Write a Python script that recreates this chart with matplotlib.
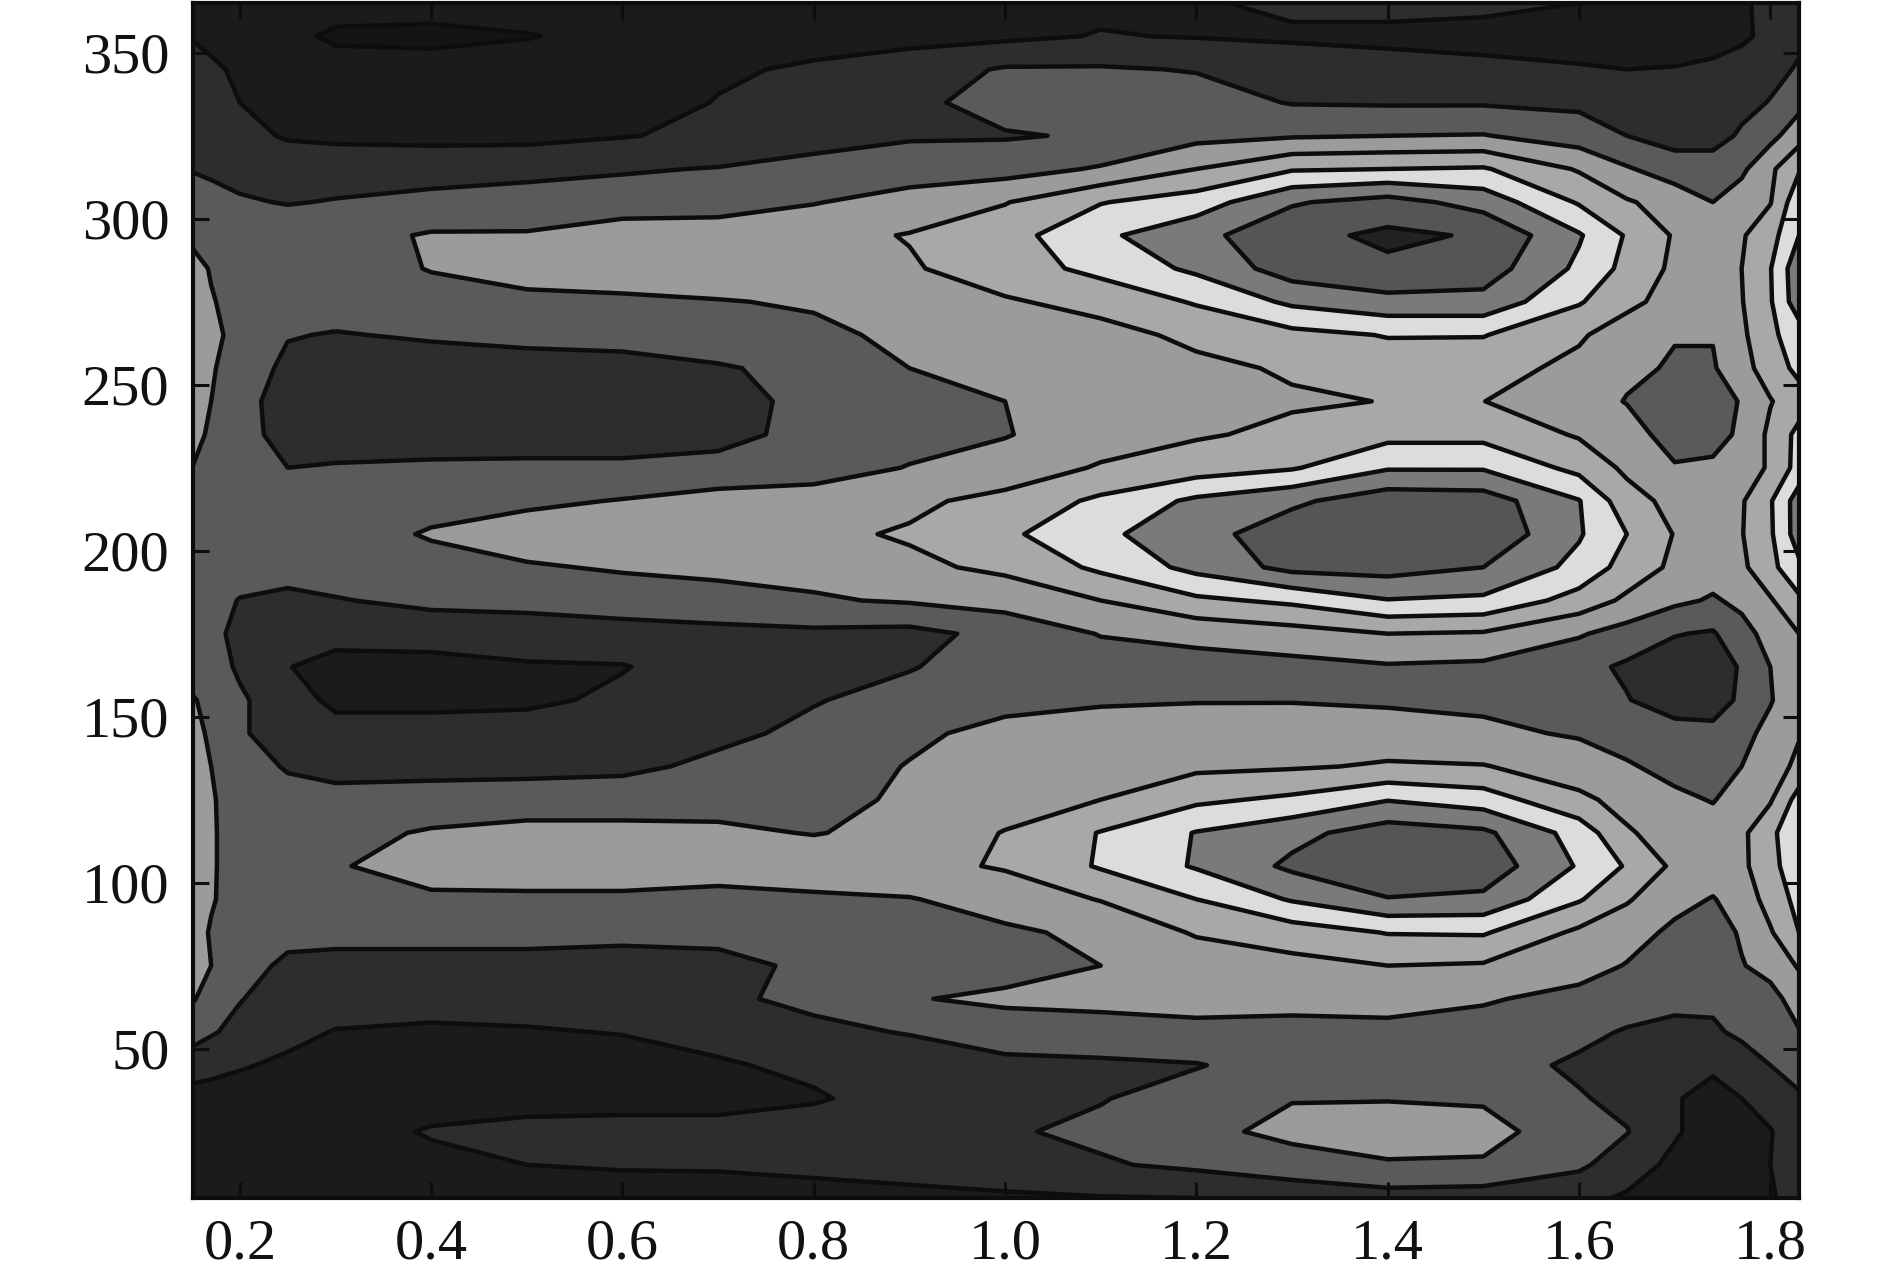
# filled contour map, greyscale

import numpy as np
import matplotlib
matplotlib.use('Agg')
import matplotlib.pyplot as plt

plt.rcParams['font.family'] = ['Liberation Serif', 'DejaVu Serif']

# 坐标和刻度
x_vals = [0.15, 0.17, 0.20, 0.25, 0.30, 0.40, 0.50, 0.60, 0.70, 0.80, 0.90, 1.00,
          1.10, 1.20, 1.30, 1.40, 1.50, 1.60, 1.65, 1.70, 1.74, 1.77, 1.80, 1.83]
y_vals = [365, 355, 345, 335, 325, 315, 305, 295, 285, 275, 265, 255, 245, 235, 225, 215, 205, 195, 185,
          175, 165, 155, 145, 135, 125, 115, 105, 95, 85, 75, 65, 55, 45, 35, 25, 15, 5]
x_ticks = [0.2, 0.4, 0.6, 0.8, 1.0, 1.2, 1.4, 1.6, 1.8]
y_ticks = [50, 100, 150, 200, 250, 300, 350]

# 每个色带的灰度
band_levels = [-0.5, 0.5, 1.5, 2.5, 3.5, 4.5, 5.5, 6.5, 7.5, 8.5, 9.5]
band_colors = ['#141414', '#1b1b1b', '#2d2d2d', '#5a5a5a', '#9b9b9b',
               '#a8a8a8', '#dcdcdc', '#7a7a7a', '#555555', '#222222']

# 网格值, 一行一个 y
z_rows = [
    [1, 1, 1, 1, 1, 1, 1, 1, 1, 1, 1.1, 1.2, 1.3, 1.4, 1.7, 1.9, 1.8, 1.5, 1.3, 1.2, 1.3, 1.4, 1.7, 2.2],
    [1.4, 1.2, 1, 0.8, 0.3, 0.2, 0.45, 0.8, 1, 1.1, 1.2, 1.3, 1.55, 1.45, 1.35, 1.2, 1.1, 1, 1, 1, 1.1, 1.3, 1.8, 2.3],
    [2.2, 1.7, 1.3, 1, 1, 1, 1, 1, 1.35, 1.65, 2, 2.6, 2.6, 2.45, 2.1, 2, 1.8, 1.6, 1.5, 1.55, 1.7, 2, 2.2, 2.6],
    [2.2, 2, 1.5, 1.1, 1, 1, 1, 1, 1.55, 2, 2.25, 2.9, 3, 2.9, 2.45, 2.4, 2.4, 2.3, 2.1, 2, 2, 2.2, 2.55, 3.2],
    [2.4, 2.1, 1.8, 1.4, 1.3, 1.2, 1.2, 1.45, 1.7, 2.2, 2.4, 2.42, 2.6, 3.2, 3.4, 3.5, 3.55, 3, 2.5, 2.1, 2.1, 2.65, 3.2, 4.1],
    [2.45, 2.3, 2.2, 2.1, 2.1, 2.2, 2.3, 2.4, 2.55, 2.75, 3, 3.1, 3.6, 4.5, 5.4, 5.5, 5.6, 4.4, 3.6, 3, 3, 3.3, 4.3, 5.4],
    [3, 2.9, 2.6, 2.45, 2.55, 2.7, 2.8, 3, 3, 3.45, 3.9, 4.45, 5.45, 6, 7.4, 7.9, 7.1, 5.4, 4.6, 4.1, 3.5, 4, 4.45, 6.2],
    [3.2, 3.1, 3.1, 3.1, 3.1, 3.6, 3.6, 4, 4.1, 4.2, 4.55, 5.1, 6.3, 7.2, 8.2, 8.7, 8.4, 6.6, 5.4, 4.4, 4, 4.4, 5.1, 6.5],
    [4, 3.4, 3.1, 3, 3, 3.55, 4, 4.1, 4.1, 4.2, 4.4, 5, 5.8, 6.7, 8, 8.3, 8, 6.3, 5.2, 4.3, 4, 4.5, 5.45, 7.2],
    [4.2, 3.6, 3, 3, 2.9, 3.1, 3.2, 3.3, 3.45, 3.6, 4, 4.4, 4.8, 5.6, 6.7, 7.2, 7.2, 5.6, 4.7, 4.2, 4, 4.45, 5.4, 7.1],
    [4.3, 3.8, 3.1, 2.55, 2.45, 2.6, 2.7, 2.9, 3.1, 3.3, 3.7, 4, 4.2, 4.7, 5.2, 5.55, 5.55, 4.6, 4.1, 3.55, 3.55, 4.3, 5.3, 6],
    [4.2, 3.6, 3, 2.3, 2.1, 2.1, 2.2, 2.1, 2.4, 2.8, 3.5, 3.8, 4.1, 4.3, 4.6, 5, 4.8, 4.3, 3.7, 3.4, 3.4, 4.2, 4.9, 5.8],
    [4.1, 3.5, 2.9, 2, 1.9, 1.9, 2, 2, 2.1, 2.8, 3.1, 3.5, 3.9, 4.2, 4.4, 4.52, 4.51, 4, 3.45, 3, 2.9, 3.6, 4.45, 5],
    [3.9, 3.3, 2.8, 2.2, 1.9, 1.9, 2, 2, 2.2, 2.8, 3.1, 3.45, 4, 4.4, 4.7, 5.2, 5.2, 4.4, 4, 3, 3.1, 3.7, 4.7, 5.8],
    [3.5, 3.1, 2.9, 2.5, 2.6, 2.7, 2.7, 2.7, 2.8, 3, 3.55, 3.9, 4.6, 5, 5.4, 6.4, 6.4, 5.2, 4.3, 3.6, 3.7, 4.1, 4.6, 5.9],
    [3.1, 3, 3, 3, 3, 3.1, 3.3, 3.55, 3.9, 4, 4.3, 4.8, 5.7, 6.7, 7.3, 8.1, 8, 6.55, 4.9, 4.2, 4, 4.4, 5.4, 7],
    [3.1, 3, 3, 3, 3, 3.6, 4, 4.1, 4.1, 4.3, 4.6, 5.3, 6.3, 7.1, 8.1, 8.4, 8.3, 6.6, 5.5, 4.45, 4.1, 4.45, 5.35, 7],
    [3.1, 3, 3, 3, 2.9, 3.1, 3.4, 3.6, 3.7, 3.8, 4.3, 4.7, 5.7, 6.8, 7.8, 7.9, 7.5, 6.2, 5.1, 4.3, 3.9, 4.3, 5.2, 6.3],
    [3, 2.9, 2.45, 2.2, 2.45, 2.7, 2.8, 3, 3.2, 3.4, 3.6, 3.9, 4.5, 5.3, 5.7, 6.45, 6.3, 5.1, 4.3, 3.7, 3.4, 3.7, 4.4, 5.3],
    [3, 2.7, 2.3, 2, 2, 2, 2, 2.1, 2.2, 2.3, 2.2, 2.8, 3.55, 3.8, 4.1, 4.5, 4.4, 3.6, 3.1, 2.55, 2.4, 3.2, 3.8, 4.5],
    [3, 2.8, 2.4, 1.55, 1, 1.1, 1.4, 1.45, 2, 2.2, 2.45, 2.9, 3, 3.1, 3.2, 3.4, 3.3, 2.8, 2.35, 2, 2, 2.6, 3.5, 4.3],
    [3.6, 3.2, 2.6, 2.1, 1.2, 1.2, 1.3, 1.7, 2.1, 2.45, 2.8, 3.2, 3.4, 3.45, 3.45, 3.35, 3.3, 3.1, 2.55, 2, 2, 2.7, 3.45, 4],
    [3.9, 3.3, 2.6, 2.1, 2, 2, 2, 2.2, 2.3, 2.7, 3.3, 3.8, 3.9, 4, 4.05, 4, 3.7, 3.4, 3.1, 2.9, 2.8, 3.3, 3.7, 4.4],
    [4, 3.5, 3, 2.4, 2.2, 2.2, 2.2, 2.3, 2.7, 3, 3.55, 3.9, 4.2, 4.3, 4.4, 4.6, 4.55, 4, 3.6, 3.2, 3.1, 3.5, 3.9, 4.8],
    [4.1, 3.6, 3, 2.9, 2.8, 2.9, 3, 3, 3.1, 3.3, 3.6, 4, 4.5, 5.3, 5.7, 6.45, 6, 4.7, 4.2, 3.7, 3.45, 3.9, 4.4, 5.9],
    [4.1, 3.6, 3.1, 3.1, 3.2, 3.6, 3.8, 3.8, 3.7, 3.45, 3.8, 4.55, 5.55, 6.55, 7.2, 8, 7.7, 6.1, 4.6, 4.1, 3.9, 4.3, 5.2, 6.5],
    [4.1, 3.6, 3.1, 3.2, 3.4, 4, 4.1, 4.1, 4.1, 4.2, 4.2, 4.6, 5.6, 6.6, 7.7, 8.3, 8.1, 6.4, 5.4, 4.3, 4, 4.3, 5.1, 6.3],
    [4.1, 3.6, 3, 3, 3, 3.3, 3.3, 3.3, 3.1, 3.3, 3.45, 3.9, 4.55, 5.5, 6.6, 7.45, 7.3, 5.6, 4.6, 3.8, 3.45, 3.9, 4.9, 5.8],
    [4, 3.4, 3, 2.8, 2.8, 2.8, 2.8, 2.7, 2.8, 2.9, 3, 3.35, 3.7, 4.6, 5, 5.55, 5.6, 4.3, 3.9, 3.3, 3.1, 3.6, 4.4, 5.5],
    [4, 3.5, 2.9, 2.3, 2.2, 2.2, 2.2, 2.2, 2.2, 2.7, 3, 3.2, 3.5, 3.9, 4.2, 4.5, 4.4, 3.9, 3.45, 2.9, 2.8, 3.45, 3.8, 4.6],
    [3.6, 3.1, 2.55, 2, 2, 2, 2, 2, 2.35, 2.7, 3.45, 3.65, 3.7, 3.9, 3.9, 3.9, 3.6, 3.2, 3.1, 2.8, 2.7, 2.9, 3.2, 3.9],
    [2.9, 2.6, 2.2, 1.8, 1.45, 1.3, 1.4, 1.55, 1.8, 2.3, 2.55, 3.1, 3.2, 3.2, 3.1, 3.2, 3.1, 2.8, 2.4, 2.2, 2.35, 2.7, 3, 3.45],
    [2, 1.8, 1.6, 1.3, 1, 1, 1, 1, 1.4, 1.7, 2, 2.2, 2.3, 2.45, 2.9, 3.1, 3, 2.3, 2, 1.7, 1.6, 2, 2.5, 2.8],
    [1.1, 1.1, 1, 1, 1, 1, 1, 1, 1, 1.4, 1.9, 2.2, 2.45, 2.9, 3.45, 3.45, 3.4, 2.6, 2.2, 1.55, 1.3, 1.5, 1.9, 2.4],
    [1, 1, 1, 1, 1, 1.6, 1.9, 2, 2, 2, 2.2, 2.4, 2.7, 3.2, 3.8, 4, 3.8, 3, 2.55, 1.6, 1.1, 1.1, 1.45, 2.1],
    [1, 1, 1, 1, 1, 1.2, 1.5, 1.6, 1.6, 1.7, 1.8, 1.9, 2.4, 2.7, 3, 3.4, 3.4, 2.7, 1.9, 1.3, 1, 1, 1.5, 2.1],
    [1, 1, 1, 1, 1, 1, 1, 1, 1.1, 1.2, 1.3, 1.4, 1.45, 1.5, 1.9, 2.1, 2, 1.7, 1.4, 1, 1, 1, 1.4, 1.9],
]

Z = np.array(z_rows)

fig = plt.figure(figsize=(18.9, 12.81), dpi=100)
ax = fig.add_axes([193 / 1890, 1 - 1198 / 1281, (1799 - 193) / 1890, (1198 - 3) / 1281])

# 填色 + 黑色等值线
ax.contourf(x_vals, y_vals, Z, levels=band_levels, colors=band_colors)
ax.contour(x_vals, y_vals, Z, levels=band_levels[1:-1], colors='#0d0d0d', linewidths=3.2)

ax.set_xlim(0.151, 1.83)
ax.set_ylim(5, 365)
ax.set_xticks(x_ticks)
ax.set_xticklabels(['%.1f' % v for v in x_ticks])
ax.set_yticks(y_ticks)
ax.tick_params(direction='in', length=11.5, width=2.2, top=True, right=True,
               labelsize=42, color='#0d0d0d', labelcolor='#111111')
ax.tick_params(axis='x', pad=15)
ax.tick_params(axis='y', pad=17)
for s in ax.spines.values():
    s.set_linewidth(3)
    s.set_color('#0d0d0d')

fig.savefig('out.png', dpi=100)
